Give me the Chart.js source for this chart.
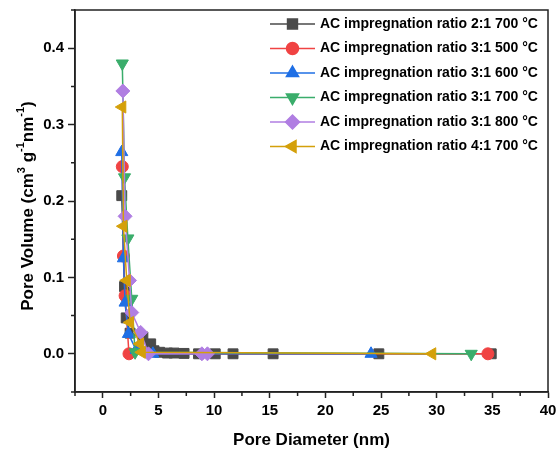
<!DOCTYPE html>
<html>
<head>
<meta charset="utf-8">
<script src="https://cdn.jsdelivr.net/npm/chart.js@4.4.0/dist/chart.umd.min.js"></script>
<style>
  html, body { margin: 0; padding: 0; background: #fff; }
  #wrap { width: 557px; height: 452px; }
</style>
</head>
<body>
<div id="wrap"><canvas id="pore-chart" width="557" height="452"></canvas></div>
<script>
// pore size distribution, one pair of arrays per activated carbon sample
const seriesNames = [
  'AC impregnation ratio 2:1 700 °C',
  'AC impregnation ratio 3:1 500 °C',
  'AC impregnation ratio 3:1 600 °C',
  'AC impregnation ratio 3:1 700 °C',
  'AC impregnation ratio 3:1 800 °C',
  'AC impregnation ratio 4:1 700 °C'
];

const diam21_700 = [1.7, 1.95, 2.1, 2.45, 3.6, 4.3, 4.6, 5.1, 5.8, 6.4, 7.3, 8.6, 10.1, 11.7, 15.3, 24.8, 34.9];
const vol21_700  = [0.207, 0.088, 0.047, 0.027, 0.022, 0.013, 0.004, 0.002, 0.001, 0.001, 0.0005, 0, 0, 0, 0, 0, 0];

const diam31_500 = [1.75, 1.85, 2.0, 2.35, 34.6];
const vol31_500  = [0.245, 0.128, 0.076, 0.0, 0];

const diam31_600 = [1.7, 1.85, 2.0, 2.3, 3.0, 4.5, 24.1];
const vol31_600  = [0.264, 0.125, 0.067, 0.026, 0.005, 0, 0];

const diam31_700 = [1.75, 1.95, 2.25, 2.6, 2.9, 33.1];
const vol31_700  = [0.380, 0.231, 0.151, 0.072, 0.002, 0];

const diam31_800 = [1.8, 2.0, 2.4, 2.6, 3.4, 4.1, 8.9, 9.4];
const vol31_800  = [0.344, 0.180, 0.096, 0.054, 0.028, 0.0, 0, 0];

const diam41_700 = [1.75, 1.85, 2.15, 2.45, 3.35, 3.5, 29.6];
const vol41_700  = [0.323, 0.167, 0.096, 0.041, 0.013, 0.002, 0];

const xMajor = [0, 5, 10, 15, 20, 25, 30, 35, 40];
const xMinor = [-2.5, 2.5, 7.5, 12.5, 17.5, 22.5, 27.5, 32.5, 37.5];
const yMajor = [0, 0.1, 0.2, 0.3, 0.4];
const yMinor = [-0.05, 0.05, 0.15, 0.25, 0.35, 0.45];

const colors = ['#4a4a4a', '#f04343', '#1f6fe5', '#3aad6b', '#b07ee2', '#d4a00a'];
const markers = [
  { style: 'rect', radius: 7, rotation: 0 },
  { style: 'circle', radius: 6, rotation: 0 },
  { style: 'triangle', radius: 7, rotation: 0 },
  { style: 'triangle', radius: 7, rotation: 180 },
  { style: 'rectRot', radius: 7, rotation: 0 },
  { style: 'triangle', radius: 7, rotation: 270 }
];
const axisColor = '#222';

const diams = [diam21_700, diam31_500, diam31_600, diam31_700, diam31_800, diam41_700];
const vols = [vol21_700, vol31_500, vol31_600, vol31_700, vol31_800, vol41_700];

const datasets = seriesNames.map((name, i) => ({
  label: name,
  data: diams[i].map((d, k) => ({ x: d, y: vols[i][k] })),
  showLine: true,
  borderColor: colors[i],
  backgroundColor: colors[i],
  borderWidth: 1.5,
  pointStyle: markers[i].style,
  pointRadius: markers[i].radius,
  pointRotation: markers[i].rotation,
  pointBackgroundColor: colors[i],
  pointBorderColor: colors[i],
  pointBorderWidth: 1,
  order: seriesNames.length - i  // last sample ends up on top
}));

// frame, minor ticks, y title with superscripts, line+marker legend
const decorations = {
  id: 'decorations',
  afterDraw(chart) {
    const { ctx, chartArea, scales } = chart;
    ctx.save();
    ctx.strokeStyle = axisColor;
    ctx.lineWidth = 1.5;
    ctx.beginPath();
    xMinor.forEach(v => {
      const px = scales.x.getPixelForValue(v);
      ctx.moveTo(px, chartArea.bottom);
      ctx.lineTo(px, chartArea.bottom + 4);
    });
    yMinor.forEach(v => {
      const py = scales.y.getPixelForValue(v);
      ctx.moveTo(chartArea.left, py);
      ctx.lineTo(chartArea.left - 4, py);
    });
    ctx.stroke();
    ctx.strokeRect(chartArea.left, chartArea.top, chartArea.right - chartArea.left, chartArea.bottom - chartArea.top);

    // y axis title
    const big = 'bold 17px "Liberation Sans", Arial, sans-serif';
    const small = 'bold 11px "Liberation Sans", Arial, sans-serif';
    const parts = [
      { t: 'Pore Volume (cm', f: big, dy: 0 },
      { t: '3', f: small, dy: -6 },
      { t: ' g', f: big, dy: 0 },
      { t: '-1', f: small, dy: -7 },
      { t: 'nm', f: big, dy: 0 },
      { t: '-1', f: small, dy: -7 },
      { t: ')', f: big, dy: 0 }
    ];
    let total = 0;
    parts.forEach(p => { ctx.font = p.f; p.w = ctx.measureText(p.t).width; total += p.w; });
    ctx.translate(28, (chartArea.top + chartArea.bottom) / 2 + 5);
    ctx.rotate(-Math.PI / 2);
    ctx.fillStyle = '#000';
    ctx.textBaseline = 'middle';
    let cx = -total / 2;
    parts.forEach(p => {
      ctx.font = p.f;
      ctx.fillText(p.t, cx, p.dy);
      cx += p.w;
    });
    ctx.setTransform(1, 0, 0, 1, 0, 0);

    // legend
    ctx.font = 'bold 14px "Liberation Sans", Arial, sans-serif';
    ctx.textBaseline = 'middle';
    seriesNames.forEach((name, i) => {
      const y = 24 + i * 24.5;
      ctx.strokeStyle = colors[i];
      ctx.lineWidth = 1.5;
      ctx.beginPath();
      ctx.moveTo(270, y);
      ctx.lineTo(315, y);
      ctx.stroke();
      ctx.fillStyle = colors[i];
      Chart.helpers.drawPoint(ctx, {
        pointStyle: markers[i].style,
        radius: markers[i].radius,
        rotation: markers[i].rotation,
        borderWidth: 1
      }, 292.5, y);
      ctx.fillStyle = '#000';
      ctx.fillText(name, 320, y);
    });
    ctx.restore();
  }
};

new Chart(document.getElementById('pore-chart'), {
  type: 'scatter',
  data: { datasets: datasets },
  options: {
    responsive: false,
    animation: false,
    layout: { padding: { top: 10, right: 9, left: 0, bottom: 0 } },
    plugins: { legend: { display: false }, tooltip: { enabled: false } },
    scales: {
      x: {
        type: 'linear',
        min: -2.5,
        max: 40,
        afterBuildTicks: s => { s.ticks = xMajor.map(v => ({ value: v })); },
        afterFit: s => { s.height = 60; s.paddingLeft = 0; s.paddingRight = 0; },
        grid: { drawOnChartArea: false, tickLength: 6, tickWidth: 1.5, tickColor: axisColor },
        border: { color: axisColor, width: 1.5 },
        ticks: {
          color: '#000',
          padding: 4,
          maxRotation: 0,
          font: { family: '"Liberation Sans", Arial, sans-serif', size: 15, weight: 'bold' },
          callback: v => String(v)
        },
        title: {
          display: true,
          text: 'Pore Diameter (nm)',
          color: '#000',
          padding: { top: 2, bottom: 1 },
          font: { family: '"Liberation Sans", Arial, sans-serif', size: 17, weight: 'bold' }
        }
      },
      y: {
        type: 'linear',
        min: -0.05,
        max: 0.45,
        afterBuildTicks: s => { s.ticks = yMajor.map(v => ({ value: v })); },
        afterFit: s => { s.width = 75; s.paddingTop = 0; s.paddingBottom = 0; },
        grid: { drawOnChartArea: false, tickLength: 7, tickWidth: 1.5, tickColor: axisColor },
        border: { color: axisColor, width: 1.5 },
        ticks: {
          color: '#000',
          padding: 4,
          font: { family: '"Liberation Sans", Arial, sans-serif', size: 15, weight: 'bold' },
          callback: v => v.toFixed(1)
        }
      }
    }
  },
  plugins: [decorations]
});
</script>
</body>
</html>
